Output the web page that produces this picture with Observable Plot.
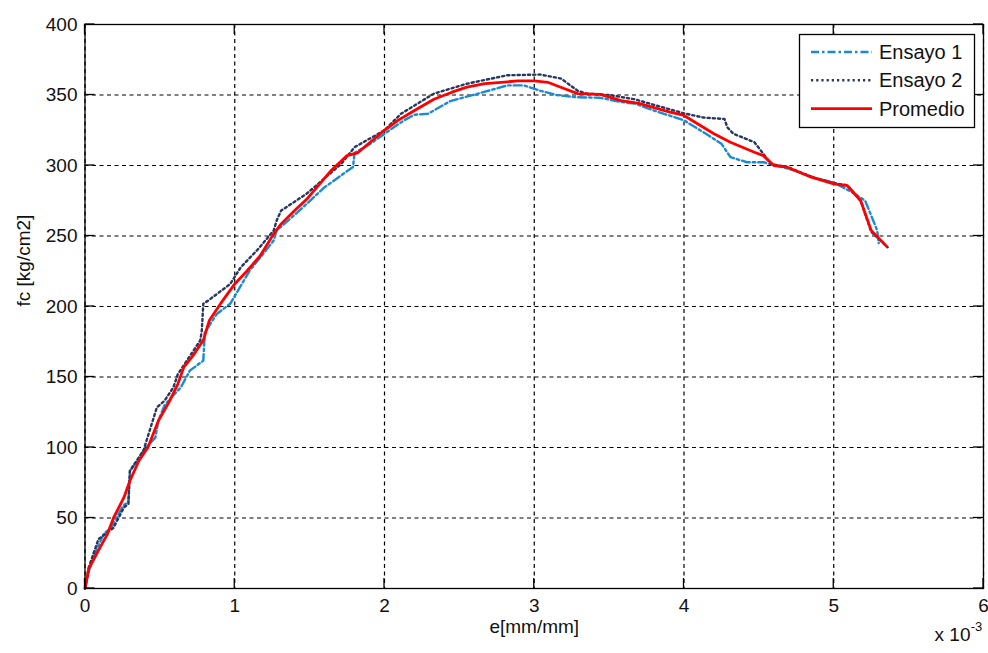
<!DOCTYPE html>
<html><head><meta charset="utf-8">
<script src="https://cdn.jsdelivr.net/npm/d3@7"></script>
<script src="https://cdn.jsdelivr.net/npm/@observablehq/plot@0.6"></script>
<style>
body{margin:0;background:#fff}
#chart{position:relative;width:988px;height:653px}
</style>
</head><body><div id="chart"></div>
<script>
// strain values in units of 10^-3 mm/mm, stress in kg/cm2
const ensayo1X = [0, 0.03, 0.08, 0.125, 0.18, 0.25, 0.29, 0.30, 0.39, 0.47, 0.49, 0.53, 0.58, 0.64, 0.70, 0.79, 0.80, 0.88, 0.97, 1.10, 1.18, 1.26, 1.28, 1.42, 1.60, 1.79, 1.80, 1.90, 2.0, 2.13, 2.2, 2.29, 2.44, 2.66, 2.82, 2.93, 3.04, 3.15, 3.27, 3.44, 3.58, 3.67, 3.80, 4.0, 4.13, 4.25, 4.31, 4.42, 4.53, 4.62, 4.75, 4.88, 5.0, 5.14, 5.21, 5.29, 5.30];
const ensayo1Y = [0, 14, 28, 38.6, 44, 58, 62, 83, 97.7, 107, 119, 129.7, 136, 142.6, 154.5, 161.6, 181.7, 194.7, 202, 225.5, 236, 246.8, 253.9, 266.9, 284.6, 299, 309, 315, 322.5, 332, 336, 336.7, 345.7, 352, 356.8, 356.8, 353, 350, 348.5, 348, 345, 344, 339, 332, 323.6, 315.4, 306, 302.3, 302.3, 300, 296, 291, 288, 280, 275, 254, 245];

const ensayo2X = [0, 0.025, 0.09, 0.19, 0.26, 0.29, 0.30, 0.39, 0.48, 0.53, 0.59, 0.62, 0.68, 0.77, 0.78, 0.79, 0.82, 0.97, 1.04, 1.15, 1.26, 1.28, 1.31, 1.48, 1.71, 1.80, 2.0, 2.11, 2.33, 2.55, 2.82, 3.04, 3.18, 3.29, 3.35, 3.50, 3.67, 3.80, 4.0, 4.13, 4.27, 4.29, 4.33, 4.47, 4.53, 4.58, 4.69, 4.85, 5.0, 5.09, 5.18, 5.25, 5.36];
const ensayo2Y = [0, 15, 35, 43, 57.5, 60, 83.5, 97.7, 128.5, 133, 142.6, 152, 161.6, 176, 183, 202, 204, 216, 227.8, 240, 253.9, 261, 268, 280, 301, 313, 325, 336.7, 351, 358, 364, 364.5, 361.6, 353, 351, 350, 347, 343, 337, 334, 333, 327, 322.5, 316.5, 308.3, 301, 299, 292, 287.5, 286, 275, 253, 242];

const promedioX = [0, 0.025, 0.10, 0.15, 0.19, 0.26, 0.30, 0.36, 0.42, 0.49, 0.56, 0.62, 0.66, 0.72, 0.79, 0.83, 0.905, 1.0, 1.08, 1.17, 1.26, 1.31, 1.40, 1.48, 1.64, 1.75, 1.82, 1.91, 2.0, 2.09, 2.2, 2.33, 2.45, 2.55, 2.67, 2.78, 2.89, 3.0, 3.09, 3.19, 3.29, 3.44, 3.58, 3.70, 3.80, 3.90, 4.0, 4.09, 4.2, 4.31, 4.47, 4.53, 4.60, 4.69, 4.85, 5.0, 5.09, 5.18, 5.25, 5.35];
const promedioY = [0, 14, 29, 38.6, 50, 64.6, 76.4, 90.6, 100, 119, 132, 145, 157, 165, 176, 190, 202, 216, 225, 236, 251.5, 258.6, 268, 276, 296, 307, 309, 317, 325, 332, 339, 347, 352, 355.6, 358, 359, 360, 360, 359, 355, 351, 350.4, 346, 344, 341, 338, 335.5, 329.6, 322.5, 316.5, 309.4, 307, 300, 298.8, 291.7, 287, 285.8, 275, 254, 243];

const xTicks = [0, 1, 2, 3, 4, 5, 6];
const yTicks = [0, 50, 100, 150, 200, 250, 300, 350, 400];
const seriesNames = ["Ensayo 1", "Ensayo 2", "Promedio"];

const colors = ["#1a8ad4", "#27375f", "#ff0000"];
const dashes = ["8,3,2.5,3", "2.2,3", null];
const widths = [2.4, 2.4, 2.8];

const toRows = (xs, ys) => xs.map((x, i) => ({x, y: ys[i]}));
const seriesData = [toRows(ensayo1X, ensayo1Y), toRows(ensayo2X, ensayo2Y), toRows(promedioX, promedioY)];

const font = "'Liberation Sans', Arial, sans-serif";

const chart = Plot.plot({
  width: 988, height: 653,
  marginTop: 24, marginLeft: 84.5, marginRight: 5, marginBottom: 65,
  style: {fontFamily: font, fontSize: "19px", color: "#111", background: "white"},
  x: {domain: [0, 6]},
  y: {domain: [0, 400]},
  marks: [
    Plot.gridX(xTicks, {stroke: "#000", strokeOpacity: 1, strokeWidth: 1.2, strokeDasharray: "4,3.5"}),
    Plot.gridY(yTicks, {stroke: "#000", strokeOpacity: 1, strokeWidth: 1.2, strokeDasharray: "4,3.5"}),
    ...seriesData.map((d, i) => Plot.line(d, {x: "x", y: "y", stroke: colors[i], strokeWidth: widths[i], strokeDasharray: dashes[i]})),
    Plot.frame({stroke: "#000", strokeWidth: 1.3}),
    Plot.axisX(xTicks, {anchor: "bottom", tickSize: 0, tickPadding: 10, tickFormat: d => String(d), label: null, fontSize: 19}),
    Plot.axisY(yTicks, {anchor: "left", tickSize: 0, tickPadding: 7.5, tickFormat: d => String(d), label: null, fontSize: 19}),
    Plot.text(["e[mm/mm]"], {frameAnchor: "bottom", dy: 44, fontSize: 19, fill: "#111"}),
    Plot.text(["fc [kg/cm2]"], {frameAnchor: "left", dx: -61, rotate: -90, fontSize: 19, fill: "#111"}),
    Plot.text(["x 10"], {frameAnchor: "bottom-right", dx: -13, dy: 52, textAnchor: "end", fontSize: 19, fill: "#111"}),
    Plot.text(["-3"], {frameAnchor: "bottom-right", dx: -7, dy: 42, textAnchor: "middle", fontSize: 13, fill: "#111"})
  ]
});
document.getElementById("chart").appendChild(chart);

const svg = d3.select(chart);
const sx = chart.scale("x"), sy = chart.scale("y");
const [xL, xR] = sx.range, [yB, yT] = sy.range;
const tickLen = 10;

// inward tick marks on all four sides (MATLAB style)
const tg = svg.append("g").attr("stroke", "#000").attr("stroke-width", 1.3);
xTicks.forEach(t => {
  const px = sx.apply(t);
  tg.append("line").attr("x1", px).attr("x2", px).attr("y1", yB).attr("y2", yB - tickLen);
  tg.append("line").attr("x1", px).attr("x2", px).attr("y1", yT).attr("y2", yT + tickLen);
});
yTicks.forEach(t => {
  const py = sy.apply(t);
  tg.append("line").attr("x1", xL).attr("x2", xL + tickLen).attr("y1", py).attr("y2", py);
  tg.append("line").attr("x1", xR).attr("x2", xR - tickLen).attr("y1", py).attr("y2", py);
});

// legend box (inside the axes, top right)
const lg = svg.append("g").attr("font-family", font).attr("font-size", 20).attr("text-anchor", "start");
lg.append("rect").attr("x", 799.5).attr("y", 34.5).attr("width", 175).attr("height", 93)
  .attr("fill", "white").attr("stroke", "#000").attr("stroke-width", 1.3);
seriesNames.forEach((name, i) => {
  const cy = 52 + i * 28.3;
  lg.append("line").attr("x1", 811).attr("x2", 872).attr("y1", cy).attr("y2", cy)
    .attr("stroke", colors[i]).attr("stroke-width", widths[i])
    .attr("stroke-dasharray", dashes[i]);
  lg.append("text").attr("x", 879).attr("y", cy + 7).attr("fill", "#111").attr("text-anchor", "start").text(name);
});
</script>
</body></html>
